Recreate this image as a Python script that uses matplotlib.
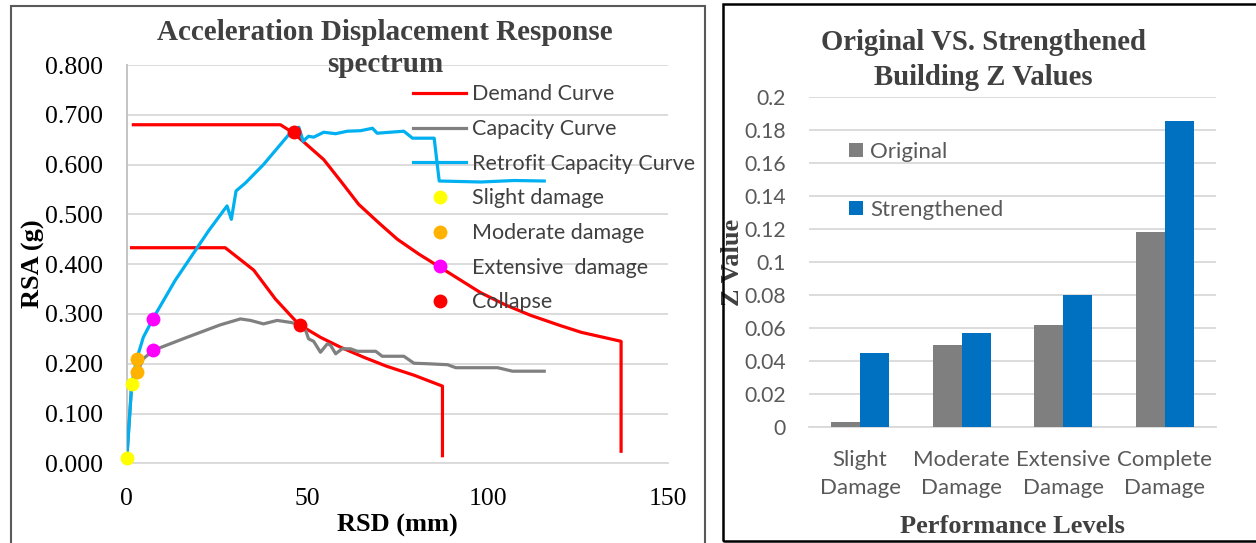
import matplotlib
matplotlib.use("Agg")
import matplotlib.pyplot as plt
from matplotlib.lines import Line2D
from matplotlib.patches import Rectangle

# ---------------- data: left chart (ADRS) ----------------
demand1_x = [1.4, 42.6, 46.3, 54.6, 59.5, 64.3, 70.0, 75.0, 81.0, 87.0, 98.0, 105.0, 112.0, 120.0, 126.0, 137.0, 137.0]
demand1_y = [0.680, 0.680, 0.663, 0.610, 0.565, 0.520, 0.482, 0.450, 0.420, 0.393, 0.343, 0.318, 0.297, 0.277, 0.263, 0.245, 0.021]

demand2_x = [0.9, 27.3, 35.2, 41.2, 47.7, 53.7, 59.3, 65.7, 72.0, 79.6, 87.5, 87.5]
demand2_y = [0.433, 0.433, 0.388, 0.330, 0.279, 0.253, 0.233, 0.213, 0.195, 0.177, 0.155, 0.012]

capacity_x = [0.0, 1.4, 2.9, 4.6, 7.4, 16.7, 25.9, 31.5, 34.3, 37.9, 41.7, 45.4, 49.1, 50.4, 51.8, 53.7,
              55.6, 56.5, 57.9, 59.7, 62.0, 63.9, 69.0, 70.8, 76.8, 79.6, 83.3, 88.9, 91.2, 102.8, 106.9, 115.7]
capacity_y = [0.007, 0.160, 0.183, 0.210, 0.227, 0.253, 0.278, 0.290, 0.287, 0.280, 0.287, 0.283, 0.277, 0.250,
              0.245, 0.223, 0.240, 0.237, 0.220, 0.230, 0.230, 0.225, 0.225, 0.215, 0.215, 0.201, 0.200, 0.198,
              0.192, 0.192, 0.185, 0.185]

retrofit_x = [0.0, 1.4, 2.8, 4.6, 7.4, 13.4, 22.7, 27.8, 29.0, 30.3, 32.9, 37.9, 44.9, 47.7, 48.9, 50.4, 51.8,
              54.6, 57.9, 61.1, 64.8, 68.1, 69.4, 76.8, 79.2, 85.2, 86.6, 98.1, 107.4, 115.7]
retrofit_y = [0.007, 0.160, 0.210, 0.253, 0.292, 0.367, 0.467, 0.517, 0.490, 0.547, 0.563, 0.600, 0.660, 0.675,
              0.647, 0.657, 0.655, 0.665, 0.662, 0.667, 0.668, 0.673, 0.663, 0.667, 0.653, 0.653, 0.567, 0.565,
              0.568, 0.567]

slight_x = [0.0, 1.5]
slight_y = [0.011, 0.159]
moderate_x = [2.9, 2.8]
moderate_y = [0.210, 0.183]
extensive_x = [7.2, 7.2]
extensive_y = [0.290, 0.227]
collapse_x = [46.3, 47.9]
collapse_y = [0.665, 0.278]

left_xticks = [0, 50, 100, 150]
left_yticks = [0.0, 0.1, 0.2, 0.3, 0.4, 0.5, 0.6, 0.7, 0.8]

# ---------------- data: right chart (bars) ----------------
levels = ["Slight\nDamage", "Moderate\nDamage", "Extensive\nDamage", "Complete\nDamage"]
original = [0.003, 0.050, 0.062, 0.118]
strengthened = [0.045, 0.057, 0.080, 0.185]
right_yticks = [0, 0.02, 0.04, 0.06, 0.08, 0.1, 0.12, 0.14, 0.16, 0.18, 0.2]
right_ytick_labels = ["0", "0.02", "0.04", "0.06", "0.08", "0.1", "0.12", "0.14", "0.16", "0.18", "0.2"]

# ---------------- figure ----------------
W, H = 1256, 543
fig = plt.figure(figsize=(W / 100, H / 100), dpi=100)

def fx(px):
    return px / W

def fy(py):
    return 1 - py / H

SERIF = "Liberation Serif"
SANS = "Lato"
GRID = "#D9D9D9"
TXT = "#404040"

# panel borders
fig.patches.append(Rectangle((fx(11), fy(560)), fx(705) - fx(11), fy(6) - fy(560),
                             transform=fig.transFigure, fill=False, edgecolor="#595959", lw=1.5))
fig.patches.append(Rectangle((fx(723), fy(541)), fx(1270) - fx(723), fy(3.5) - fy(541),
                             transform=fig.transFigure, fill=False, edgecolor="black", lw=1.8))

# ---------------- left axes ----------------
ax = fig.add_axes([fx(126.7), fy(463.3), fx(668) - fx(126.7), fy(65) - fy(463.3)])
ax.set_xlim(0, 150)
ax.set_ylim(0, 0.8)
ax.set_xticks(left_xticks)
ax.set_yticks(left_yticks)
ax.set_yticklabels([f"{v:.3f}" for v in left_yticks])
ax.grid(axis="y", color=GRID, lw=1.3)
ax.set_axisbelow(True)
for s in ["top", "right"]:
    ax.spines[s].set_visible(False)
ax.spines["left"].set_color("#BFBFBF")
ax.spines["left"].set_linewidth(1.3)
ax.spines["bottom"].set_color(GRID)
ax.spines["bottom"].set_linewidth(1.3)
ax.tick_params(length=0, labelsize=18.5, pad=17)
ax.tick_params(axis="x", pad=18)
for t in ax.get_xticklabels() + ax.get_yticklabels():
    t.set_fontfamily(SERIF)

lw = 2.3
ax.plot(demand1_x, demand1_y, color="#FF0000", lw=lw, solid_capstyle="butt", zorder=3)
ax.plot(demand2_x, demand2_y, color="#FF0000", lw=lw, solid_capstyle="butt", zorder=3)
ax.plot(capacity_x, capacity_y, color="#808080", lw=lw, zorder=3)
ax.plot(retrofit_x, retrofit_y, color="#00B0F0", lw=lw, zorder=3)
ms = 10
ax.plot(slight_x, slight_y, "o", color="#FFFF00", ms=ms, mec="none", zorder=5, clip_on=False)
ax.plot(moderate_x, moderate_y, "o", color="#FFB300", ms=ms, mec="none", zorder=5, clip_on=False)
ax.plot(extensive_x, extensive_y, "o", color="#FF00FF", ms=ms, mec="none", zorder=5, clip_on=False)
ax.plot(collapse_x, collapse_y, "o", color="#FF0000", ms=ms, mec="none", zorder=5, clip_on=False)

handles = [
    Line2D([], [], color="#FF0000", lw=lw),
    Line2D([], [], color="#808080", lw=lw),
    Line2D([], [], color="#00B0F0", lw=lw),
    Line2D([], [], ls="none", marker="o", color="#FFFF00", ms=ms, mec="none"),
    Line2D([], [], ls="none", marker="o", color="#FFB300", ms=ms, mec="none"),
    Line2D([], [], ls="none", marker="o", color="#FF00FF", ms=ms, mec="none"),
    Line2D([], [], ls="none", marker="o", color="#FF0000", ms=ms, mec="none"),
]
labels = ["Demand Curve", "Capacity Curve", "Retrofit Capacity Curve", "Slight damage",
          "Moderate damage", "Extensive  damage", "Collapse"]
leg = ax.legend(handles, labels, loc="upper left", bbox_to_anchor=(fx(413), fy(84.5)),
                bbox_transform=fig.transFigure, frameon=False,
                handlelength=2.48, handletextpad=0.25, labelspacing=0.68, borderpad=0,
                borderaxespad=0, numpoints=1, prop={"family": SANS, "size": 15.5})
leg.set_zorder(6)
for t in leg.get_texts():
    t.set_color(TXT)

fig.text(fx(385), fy(39.5), "Acceleration Displacement Response", ha="center", va="baseline",
         fontsize=21, fontweight="bold", family=SERIF, color=TXT)
fig.text(fx(385), fy(72), "spectrum", ha="center", va="baseline",
         fontsize=21, fontweight="bold", family=SERIF, color=TXT)
ax.set_xlabel("RSD (mm)", fontsize=19, fontweight="bold", family=SERIF)
ax.set_ylabel("RSA (g)", fontsize=19, fontweight="bold", family=SERIF)
ax.xaxis.set_label_coords(0.5, (463.3 - 514) / 398.3)
ax.yaxis.set_label_coords((45 - 126.7) / 541.3, 0.5)

# ---------------- right axes ----------------
bx = fig.add_axes([fx(809.3), fy(427.3), fx(1215.7) - fx(809.3), fy(96.7) - fy(427.3)])
bx.set_xlim(-0.5, 3.5)
bx.set_ylim(0, 0.2)
w = 0.285
pos = list(range(len(levels)))
bx.bar([p - w / 2 for p in pos], original, width=w, color="#7F7F7F", label="Original", zorder=3)
bx.bar([p + w / 2 for p in pos], strengthened, width=w, color="#0070C0", label="Strengthened", zorder=3)
bx.set_yticks(right_yticks)
bx.set_yticklabels(right_ytick_labels)
bx.set_xticks(pos)
bx.set_xticklabels(levels)
bx.grid(axis="y", color=GRID, lw=1.3)
bx.set_axisbelow(True)
for s in ["top", "right", "left"]:
    bx.spines[s].set_visible(False)
bx.spines["bottom"].set_color(GRID)
bx.spines["bottom"].set_linewidth(1.3)
bx.tick_params(length=0, labelsize=16, labelcolor="#595959")
bx.tick_params(axis="y", pad=17, labelsize=15.2)
bx.tick_params(axis="x", pad=16)
for t in bx.get_xticklabels() + bx.get_yticklabels():
    t.set_fontfamily(SANS)
for t in bx.get_xticklabels():
    t.set_linespacing(1.55)

bleg = bx.legend(loc="upper left", bbox_to_anchor=(fx(849.5), fy(142)), bbox_transform=fig.transFigure,
                 frameon=False, handlelength=0.62, handleheight=0.62, handletextpad=0.3,
                 labelspacing=1.7, borderpad=0, borderaxespad=0,
                 prop={"family": SANS, "size": 16})
for t in bleg.get_texts():
    t.set_color("#595959")

fig.text(fx(983.5), fy(50.5), "Original VS. Strengthened", ha="center", va="baseline",
         fontsize=20.7, fontweight="bold", family=SERIF, color=TXT)
fig.text(fx(983.5), fy(85), "Building Z Values", ha="center", va="baseline",
         fontsize=20.7, fontweight="bold", family=SERIF, color=TXT)
bx.set_xlabel("Performance Levels", fontsize=19, fontweight="bold", family=SERIF, color=TXT)
bx.set_ylabel("Z Value", fontsize=19, fontweight="bold", family=SERIF, color=TXT)
bx.xaxis.set_label_coords(0.5, (427.3 - 515) / 330.6)
bx.yaxis.set_label_coords((744 - 809.3) / 406.4, 0.5)

fig.savefig("out.png", dpi=100)
